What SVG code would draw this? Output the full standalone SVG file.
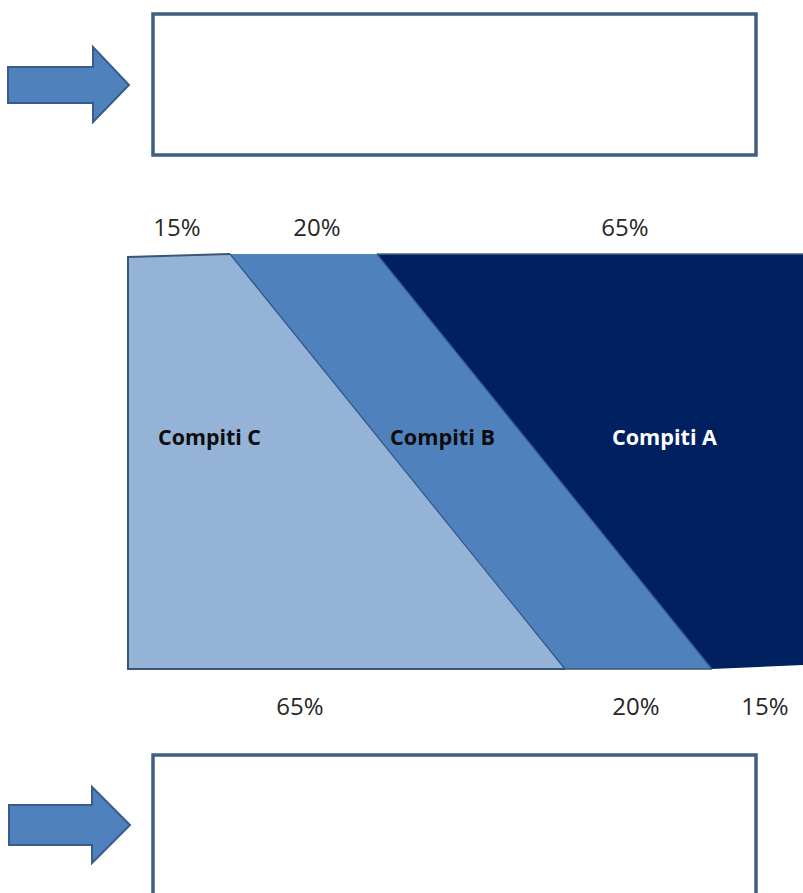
<svg xmlns="http://www.w3.org/2000/svg" width="803" height="893" viewBox="0 0 803 893">
<style>
.box{fill:#fff;stroke:#3e5f80;stroke-width:3.5}
.arr{fill:#4f81bd;stroke:#385d8a;stroke-width:2}
.pct{font-family:"Open Sans",sans-serif;font-size:24px;fill:#262626;text-anchor:middle}
.lbl{font-family:"Open Sans",sans-serif;font-size:22px;font-weight:bold}
.sep{stroke:#2f5486;stroke-width:1.2;fill:none}
</style>
<rect width="803" height="893" fill="#fff"/>
<g id="top-arrow"><polygon class="arr" points="8,67 93,67 93,47 129,85 93,122 93,103 8,103"/></g>
<g id="top-box"><rect class="box" x="153" y="14" width="603" height="141"/></g>
<g id="chart">
<polygon id="region-c" points="128,257 230,254 565,669 128,669" fill="#95b3d7"/>
<polygon id="region-b" points="230,254 377,254 712,669 565,669" fill="#4f81bd"/>
<polygon id="region-a" points="377,254 803,254 803,665 712,669" fill="#002060"/>
<line x1="377" y1="254" x2="803" y2="254" stroke="#4a6582" stroke-width="1.5"/>
<polyline points="230,254 128,257 128,669 565,669" fill="none" stroke="#3a5674" stroke-width="2"/>
<line x1="565" y1="669" x2="712" y2="669" stroke="#3a5674" stroke-width="1.5"/>
<line class="sep" x1="230" y1="254" x2="565" y2="669"/>
<line class="sep" x1="377" y1="254" x2="712" y2="669" stroke="#1d3f73"/>
<text class="lbl" x="158" y="445" fill="#0d0d0d" textLength="103" lengthAdjust="spacingAndGlyphs">Compiti C</text>
<text class="lbl" x="390" y="445" fill="#0d0d0d" textLength="105" lengthAdjust="spacingAndGlyphs">Compiti B</text>
<text class="lbl" x="612" y="445" fill="#ffffff" textLength="105" lengthAdjust="spacingAndGlyphs">Compiti A</text>
</g>
<g id="labels">
<text class="pct" x="177" y="236">15%</text>
<text class="pct" x="317" y="236">20%</text>
<text class="pct" x="625" y="236">65%</text>
<text class="pct" x="300" y="715">65%</text>
<text class="pct" x="636" y="715">20%</text>
<text class="pct" x="765" y="715">15%</text>
</g>
<g id="bottom-arrow"><polygon class="arr" points="9,805 92,805 92,787 130,825 92,863 92,845 9,845"/></g>
<g id="bottom-box"><rect class="box" x="153" y="755" width="603" height="160"/></g>
<g id="connectors"></g>
</svg>
